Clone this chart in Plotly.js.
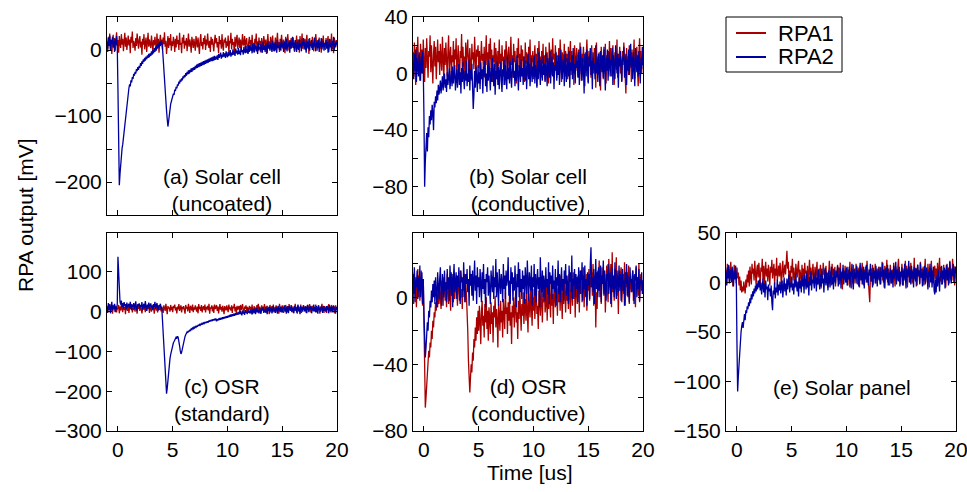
<!DOCTYPE html>
<html>
<head>
<meta charset="utf-8">
<script src="https://cdn.plot.ly/plotly-3.0.1.min.js"></script>
<style>html,body{margin:0;padding:0;background:#fff;}#chart{width:967px;height:492px;}</style>
</head>
<body>
<div id="chart"></div>
<script>
// Each series is stored as rows of samples; row r starts at t = r - 1 us, samples every 1/16 us.
const rowStartUs = -1, samplesPerUs = 16;

const seriesNames = ["RPA1", "RPA2"];
const panelLabels = ["(a) Solar cell<br>(uncoated)", "(b) Solar cell<br>(conductive)", "(c) OSR<br>(standard)", "(d) OSR<br>(conductive)", "(e) Solar panel"];
const xTicks = [0, 5, 10, 15, 20];

// (a) Solar cell (uncoated)
const a_rpa1 = [
 [14,-3,20,7,25,2,16,-6,11,23,4,18,-1,9,27,6],[15,-4,21,10,3,24,8,17,-2,13,26,5,19,0,12,22],
 [7,16,-5,20,11,28,3,14,9,-1,18,6,25,10,2,15],[21,4,13,-7,17,8,24,1,12,19,-3,10,26,5,16,9],
 [3,22,11,-2,15,7,20,13,0,25,6,17,-4,12,23,8],[16,1,19,9,27,5,14,-6,10,21,3,18,7,24,-1,13],
 [6,20,12,-3,17,4,22,9,15,0,26,8,11,-5,19,10],[23,2,14,7,18,-2,11,25,5,16,9,-4,20,12,3,17],
 [8,-1,21,13,4,19,10,-6,15,24,6,12,1,18,9,22],[0,16,7,25,11,3,14,-3,20,8,17,5,-2,13,23,10],
 [18,4,12,-5,21,9,15,2,24,7,-1,16,11,19,3,13],[6,22,-4,14,10,26,1,17,8,12,-7,20,5,15,23,2],
 [11,19,3,16,-2,13,24,7,9,21,0,14,18,4,-5,12],[20,8,15,1,23,6,11,-3,17,10,25,2,13,-1,19,7],
 [14,-4,18,9,3,21,12,5,16,-6,10,24,7,13,1,20],[4,15,22,-2,11,8,19,0,14,26,6,12,-3,17,9,23],
 [10,2,16,7,-5,20,13,4,24,11,-1,15,8,18,3,12],[19,5,-3,14,9,22,1,16,12,-4,21,6,10,25,2,15],
 [8,17,0,13,23,4,11,-6,18,9,14,3,20,7,-2,16],[12,24,6,-1,15,10,19,2,13,-4,17,8,22,5,11,0],
 [18,3,14,21,-3,9,16,6,25,1,12,-5,19,10,4,15],[9]];
const a_rpa2 = [
 [12,2,18,6,22,0,15,9,20,4,14,-3,17,8,21,5],[-60,-150,-205,-188,-172,-163,-149,-143,-133,-124,-109,-102,-87,-81,-70,-66],
 [-58,-52,-55,-46,-49,-41,-44,-36,-39,-33,-36,-29,-32,-26,-30,-24],[-27,-20,-24,-17,-21,-14,-18,-12,-16,-10,-14,-8,-12,-6,-11,-5],
 [-9,-2,-7,0,-5,3,-3,5,-1,8,2,10,4,12,6,14],[12,4,-15,-35,-50,-68,-82,-92,-105,-116,-108,-96,-88,-82,-78,-73],
 [-70,-66,-68,-60,-62,-56,-58,-52,-54,-48,-51,-45,-48,-43,-46,-40],[-43,-38,-41,-35,-39,-33,-37,-31,-36,-30,-34,-28,-33,-27,-31,-26],
 [-30,-24,-28,-22,-27,-21,-26,-20,-25,-19,-24,-18,-23,-17,-22,-16],[-21,-15,-20,-14,-19,-13,-18,-12,-17,-11,-17,-10,-16,-9,-15,-10],
 [-14,-8,-15,-6,-12,-9,-4,-13,-7,-11,-3,-10,-5,-12,-2,-8],[-11,-3,-9,-6,0,-10,-4,-8,1,-7,-2,-9,2,-5,-1,-7],
 [3,-6,-1,-8,4,-3,0,-7,5,-2,-5,6,-4,1,-6,7],[-3,8,-1,4,-5,9,0,-4,10,2,-2,6,-6,11,1,5],
 [-2,9,3,-4,12,0,7,-3,10,4,-5,13,2,8,-1,11],[5,-3,14,1,9,-2,12,6,-4,15,3,8,0,11,-1,16],
 [4,10,-3,13,7,1,17,-2,9,5,12,-4,14,2,8,20],[3,11,-1,15,6,-3,12,9,0,16,4,10,-2,13,7,18],
 [1,12,5,-4,14,8,2,17,-1,10,6,15,0,11,4,19],[7,-2,13,9,3,16,-3,11,5,18,1,8,14,-1,10,6],
 [15,2,12,-4,9,17,4,11,-2,14,7,20,0,10,5,13],[8]];

// (b) Solar cell (conductive)
const b_rpa1 = [
 [15,-2,22,6,-8,19,10,26,3,13,-5,21,8,17,0,24],[11,-6,18,4,25,9,-3,16,12,27,1,20,7,-7,14,23],
 [5,19,-4,12,24,8,16,-1,21,10,2,26,13,-5,18,6],[22,9,-2,15,27,4,11,19,-6,13,8,23,1,17,10,25],
 [-3,14,20,7,-8,16,11,28,2,19,5,12,-4,22,9,15],[24,0,13,18,6,-5,21,10,15,3,26,8,-2,17,12,20],
 [4,16,-7,11,23,9,14,1,19,-3,12,27,6,15,-1,21],[10,25,3,17,-6,13,8,22,0,18,11,-4,16,5,24,7],
 [14,-2,20,9,12,-8,17,4,23,10,1,15,19,-5,11,26],[6,13,-3,21,8,16,2,-7,18,11,25,4,14,-1,20,9],
 [17,3,12,-6,22,7,15,10,-2,19,5,24,0,13,8,16],[-4,11,20,6,14,-9,18,2,23,9,12,-3,16,7,21,1],
 [13,-5,19,8,15,3,-7,22,11,5,17,-1,25,10,14,2],[20,6,-3,13,9,18,0,24,7,-6,15,12,4,21,-2,16],
 [8,14,-4,19,3,11,23,-1,16,6,13,-8,20,9,2,18],[12,-2,17,5,22,10,-5,14,8,19,1,-9,15,11,24,4],
 [-6,16,9,13,-3,20,6,11,0,18,14,-10,22,3,12,7],[15,1,-12,19,8,10,-4,17,5,21,-7,13,9,16,2,23],
 [4,18,-2,12,20,7,-8,15,11,3,24,-3,14,9,19,0],[10,-5,16,6,22,13,1,-14,18,8,12,-1,20,5,15,-6],
 [17,3,11,24,-4,14,8,19,2,-9,13,25,6,16,0,12],[7]];
const b_rpa2 = [
 [8,-4,14,2,17,-6,11,5,-2,15,7,-5,12,0,16,3],[-30,-80,-62,-50,-42,-55,-38,-45,-30,-36,-26,-33,-22,-28,-40,-20],
 [-24,-16,-21,-12,-19,-8,-15,-11,-5,-14,-9,-2,-12,-6,0,-10],[-4,-13,1,-8,-3,4,-11,-5,2,-9,5,-7,-1,6,-12,-3],
 [3,-10,-2,7,-8,1,-14,4,-6,8,-3,-11,2,-5,9,-9],[0,-6,10,-12,3,-4,7,-8,-25,-15,2,-10,5,-3,-13,6],
 [-7,1,-11,8,-4,3,-14,5,-2,9,-9,0,-13,6,-5,10],[-3,-12,4,-6,11,-1,-9,7,-15,2,-4,9,-8,5,-11,1],
 [8,-5,-13,3,-2,10,-8,6,0,-11,12,-4,4,-7,9,-1],[-10,5,11,-3,2,-9,7,-5,13,-1,-12,6,3,-6,10,-2],
 [4,-8,12,0,-5,9,-11,3,14,-4,7,-9,1,11,-6,5],[-2,13,-7,6,2,-10,9,-4,15,1,-8,10,4,-5,12,-1],
 [7,-6,14,0,-9,11,3,-3,16,-7,5,12,-2,8,-11,6],[2,15,-5,9,-1,13,-8,4,17,1,-4,10,6,-9,14,3],
 [-6,11,5,-2,16,-10,8,2,13,-4,18,0,7,-7,12,4],[9,-3,15,-8,6,19,1,-5,11,4,-14,14,8,-2,17,3],
 [-7,12,5,18,-1,9,-11,15,3,7,-4,20,0,10,-6,14],[4,-9,16,8,1,13,-3,19,6,-12,11,2,17,-5,9,15],
 [-2,10,6,18,-8,13,3,-4,20,7,0,14,-10,11,5,16],[1,-6,12,9,19,-3,6,14,-8,10,2,17,-1,8,21,4],
 [12,-4,15,5,-9,18,8,1,13,-2,16,6,-7,11,3,19],[6]];

// (c) OSR (standard)
const c_rpa1 = [
 [12,-3,16,4,19,0,9,14,-5,11,6,18,1,15,-2,10],[7,17,-4,13,3,20,8,-1,15,5,12,-6,18,9,2,14],
 [-3,11,16,6,19,-2,10,4,13,0,17,8,-5,14,7,20],[2,15,9,-4,12,18,5,10,-1,16,3,13,7,21,-3,11],
 [8,0,17,6,14,-5,10,19,3,12,-2,15,9,4,18,1],[13,7,-3,16,10,2,20,5,-6,14,8,11,0,17,4,12],
 [-1,15,9,18,3,11,-4,13,6,19,2,10,16,-2,12,7],[14,4,-5,17,8,12,1,20,6,-3,15,10,3,18,-1,11],
 [5,16,9,0,13,-4,19,7,12,2,17,-2,10,14,4,18],[-2,12,6,15,3,20,-5,11,8,16,1,13,-3,18,7,10],
 [17,2,13,-4,9,19,5,12,0,15,7,-6,14,10,3,16],[8,-1,18,6,11,3,16,-3,13,9,20,1,12,-5,15,5],
 [11,14,-2,17,4,10,19,2,-4,13,7,16,0,12,8,-3],[15,6,12,1,18,-5,9,14,3,11,-1,17,7,20,2,13],
 [-4,10,16,5,13,0,19,8,-3,12,15,4,11,-6,17,9],[3,14,7,18,-2,11,5,16,9,1,13,-5,20,6,12,-1],
 [16,8,-3,12,4,17,10,0,14,-4,19,7,11,2,15,9],[-2,13,6,20,3,10,-5,15,8,12,1,18,-3,11,5,16],
 [9,0,14,7,-4,17,11,3,19,6,-2,13,10,15,1,12],[4,18,-1,11,8,16,2,-5,13,9,20,5,12,-3,14,7],
 [10,-3,15,6,19,1,12,-2,17,8,4,14,-4,11,16,6],[9]];
const c_rpa2 = [
 [14,-2,22,6,18,-4,11,25,3,16,8,20,-1,13,5,19],[138,80,35,25,18,28,12,22,8,24,14,19,6,23,11,17],
 [20,9,25,13,4,18,11,22,7,16,26,10,3,19,14,21],[8,17,12,24,5,15,20,9,27,13,2,18,11,23,6,16],
 [21,10,14,4,19,12,25,7,16,22,11,3,17,13,20,9],[10,-20,-55,-95,-135,-170,-195,-206,-192,-170,-150,-132,-118,-108,-98,-90],
 [-84,-78,-75,-70,-68,-64,-66,-62,-65,-72,-85,-98,-106,-102,-92,-82],[-74,-68,-62,-58,-55,-51,-53,-48,-50,-45,-47,-43,-45,-41,-43,-39],
 [-41,-37,-39,-35,-38,-33,-36,-32,-34,-30,-33,-29,-31,-28,-30,-26],[-29,-25,-28,-24,-27,-22,-25,-21,-24,-20,-23,-19,-22,-18,-21,-17],
 [-24,-19,-22,-17,-21,-16,-20,-15,-19,-14,-18,-13,-17,-12,-16,-11],[-15,-10,-14,-8,-13,-7,-12,-6,-11,-5,-10,-4,-9,-3,-8,-2],
 [-7,0,-6,2,-5,-9,3,-4,-1,-8,4,-3,1,-6,5,-2],[2,-5,6,-1,-7,7,0,-3,8,-6,3,9,-2,5,-4,10],
 [1,-5,8,3,11,-3,6,-1,12,4,-6,9,2,13,-2,7],[10,-4,5,14,1,8,-3,12,6,-5,15,3,9,-1,13,4],
 [-2,11,7,16,0,9,-5,13,5,-3,14,8,2,17,-1,10],[6,-4,15,3,12,-2,9,18,1,7,-6,14,4,11,0,16],
 [8,2,13,-3,10,17,5,-1,12,6,15,-4,9,3,18,1],[11,-2,14,7,-5,16,4,10,0,13,8,-3,15,2,12,6],
 [-1,14,5,11,-4,17,9,2,13,-2,10,16,3,8,-5,12],[4]];

// (d) OSR (conductive)
const d_rpa1 = [
 [10,-4,15,2,12,-6,8,17,0,13,-2,9,16,3,-5,11],[-20,-45,-66,-60,-52,-45,-40,-32,-36,-27,-30,-20,-25,-14,-18,-9],
 [-12,-3,-8,2,-6,5,-4,8,-1,-7,10,0,-5,12,3,-2],[9,-6,14,1,-4,11,4,-8,15,2,7,-3,13,-1,6,10],
 [3,-5,12,8,-2,16,0,5,-7,11,4,14,-3,9,2,-6],[-20,-38,-50,-57,-48,-40,-45,-33,-38,-25,-30,-18,-26,-12,-22,-8],
 [-20,-5,-14,-28,-9,-2,-17,-11,-24,-4,-15,0,-19,-8,-26,-6],[-13,-22,-3,-16,-9,-27,-5,-12,1,-18,-7,-14,-30,-4,-11,-20],
 [-2,-15,-8,-24,-1,-12,-19,3,-10,-6,-22,-3,-14,2,-17,-9],[-28,-5,-12,0,-18,-7,4,-15,-9,-25,-2,-13,5,-8,-20,-4],
 [-11,3,-16,-6,-1,-14,6,-9,-21,2,-7,-12,7,-4,-17,0],[-8,5,-13,-2,8,-10,-5,-19,4,-1,-11,9,-6,-15,3,-3],
 [6,-9,-4,10,-14,1,-7,7,-2,-12,11,-5,2,-16,8,-1],[-6,9,3,-11,12,-3,5,-8,13,0,-13,7,-4,10,2,-9],
 [11,-2,6,-7,14,1,-10,8,4,-5,15,-1,9,-12,12,3],[-4,13,7,-9,16,2,10,-3,5,18,-6,11,0,14,-8,8],
 [4,17,-2,12,6,15,1,20,-5,9,13,-18,3,-7,16,7],[22,0,11,-4,18,8,11,2,14,-9,12,19,5,-3,23,10],
 [6,20,-6,27,3,12,-2,17,9,24,1,11,-10,16,4,13],[18,-3,9,14,2,21,-5,10,6,15,0,19,-4,12,8,3],
 [11,16,-2,13,5,-6,18,7,12,1,20,-3,9,14,4,10],[8]];
const d_rpa2 = [
 [14,2,18,-3,10,6,16,-1,12,4,19,0,9,15,-4,11],[-10,-28,-36,-30,-22,-15,-20,-8,-12,-2,-6,4,-3,8,0,10],
 [-4,12,3,-6,15,6,-1,11,18,2,-5,14,7,0,16,4],[9,-3,17,5,12,-2,19,8,1,14,-6,11,20,3,7,15],
 [-1,13,6,18,2,-4,16,9,12,0,21,5,-3,14,8,17],[3,11,-5,19,7,14,1,16,-2,10,22,4,13,-4,18,6],
 [12,0,17,8,-3,15,5,20,2,11,-6,14,9,18,1,13],[7,-4,16,10,3,19,-1,12,6,23,0,15,8,-5,17,11],
 [2,14,9,-3,20,5,13,-1,16,7,11,24,1,10,-4,18],[8,15,-2,12,4,19,10,-6,14,6,21,0,17,3,11,-1],
 [16,5,13,-4,18,9,2,22,7,-2,15,11,4,19,-5,12],[6,20,1,14,-3,10,17,5,12,-6,24,8,3,16,0,13],
 [9,-2,18,6,11,1,21,-4,15,8,13,-1,19,5,10,3],[17,-5,12,7,22,2,14,-3,10,18,4,11,-2,16,8,20],
 [1,13,6,-4,19,9,15,3,25,-1,11,7,17,0,14,5],[12,-3,18,8,2,16,10,21,-2,13,5,19,1,11,-5,15],
 [7,14,-1,20,30,6,12,3,17,-4,10,23,5,15,0,18],[4,11,19,-3,13,8,22,1,16,6,-2,14,10,20,2,12],
 [15,-4,9,18,5,13,0,21,7,-1,16,11,3,19,6,14],[-2,12,17,4,10,-5,15,8,20,1,13,6,-3,18,9,11],
 [3,16,7,-4,14,10,19,0,12,5,17,-2,11,8,15,2],[10]];

// (e) Solar panel
const e_rpa1 = [
 [13,-2,19,6,16,0,10,21,3,14,-4,11,18,5,9,-1],[15,4,10,-3,6,-8,2,-10,-4,-9,1,-6,-11,3,-5,8],
 [0,12,-4,16,6,-2,19,9,14,2,22,7,-3,13,18,5],[20,8,-1,15,11,24,3,17,-5,12,21,6,14,1,18,9],
 [-3,16,10,23,4,12,19,-2,14,7,25,2,11,17,6,20],[9,-4,15,22,5,13,18,8,27,32,14,21,3,12,-1,17],
 [10,24,2,15,7,-3,19,11,5,16,22,0,13,8,-6,18],[4,14,-2,20,9,12,1,17,-5,10,23,6,15,-1,11,19],
 [7,-4,16,3,12,21,-2,9,14,5,18,-6,11,2,20,8],[13,-1,17,6,10,-5,15,22,4,11,-3,19,7,14,1,16],
 [-4,12,8,18,2,15,-2,20,6,11,-7,14,9,3,17,0],[10,16,-3,13,5,21,1,-6,12,8,18,-1,14,4,19,7],
 [-2,15,9,-5,17,3,11,20,6,-3,13,8,16,0,22,10],[4,-6,-20,8,14,1,18,-3,11,6,19,-1,13,9,3,16],
 [10,-2,15,7,21,2,12,-5,17,5,9,23,0,14,6,-3],[18,8,-1,13,4,20,11,-4,16,7,2,15,24,3,10,-2],
 [12,19,5,-3,14,9,22,1,17,-5,11,6,16,0,20,8],[-1,13,7,25,3,15,-4,10,18,6,12,-2,21,9,14,4],
 [16,-3,11,24,5,13,0,19,8,-5,15,10,22,2,12,-1],[9,17,3,14,-4,20,7,12,25,1,16,-2,11,6,18,0],
 [13,-5,10,19,4,15,-1,22,8,12,2,24,6,17,-3,11],[14]];
const e_rpa2 = [
 [10,-3,15,4,18,-1,8,13,0,16,6,-4,12,3,17,7],[-60,-110,-95,-80,-70,-58,-50,-44,-40,-46,-36,-32,-38,-28,-31,-24],
 [-27,-20,-24,-16,-21,-12,-17,-9,-14,-6,-11,-3,-9,-1,-7,2],[-5,3,-8,0,-12,-3,4,-10,-1,-15,2,-7,-4,-18,-2,-9],
 [-6,-14,-3,-20,-28,-8,-12,0,-16,-5,-10,3,-13,-2,-8,1],[-11,-4,2,-15,-6,5,-9,-1,-13,4,-7,-2,8,-10,0,-5],
 [6,-8,-1,-12,3,-5,9,-3,-9,1,-14,5,-6,2,-10,7],[-4,4,-11,8,-2,-7,10,-5,1,-13,6,-3,11,-8,3,-1],
 [9,-6,2,12,-9,5,-2,13,0,-7,8,-4,14,-1,4,-10],[7,15,-3,10,1,-8,12,4,-5,9,16,-2,6,-7,13,3],
 [-1,11,5,17,-4,8,2,14,-6,10,4,18,-2,7,12,0],[15,-3,9,3,16,-5,11,6,19,1,-7,13,4,10,-1,17],
 [5,12,-4,9,20,2,14,-2,8,16,-6,11,3,18,0,10],[-3,13,7,19,1,10,-5,15,4,12,-1,17,6,-4,14,9],
 [2,16,-2,11,6,20,0,13,-6,9,15,3,18,-3,10,5],[14,-1,12,7,-5,17,4,10,21,-2,13,8,1,16,-4,11],
 [6,15,-3,12,2,19,8,-6,14,5,10,22,0,13,-2,17],[4,11,-5,16,9,1,14,-3,18,7,12,-1,20,5,10,-4],
 [13,2,17,-2,9,15,4,-7,11,6,19,0,14,-5,8,16],[-8,-12,3,-10,7,-4,13,1,-9,10,5,17,-2,12,3,15],
 [-6,9,18,2,13,-3,10,21,5,-1,14,7,19,0,11,16],[9]];

function unroll(rows) {
  const x = [], y = [];
  rows.forEach((row, r) => row.forEach((v, j) => { x.push(rowStartUs + r + j / samplesPerUs); y.push(v); }));
  return {x, y};
}

const panels = [
  {x: "x",  y: "y",  r1: a_rpa1, r2: a_rpa2},
  {x: "x2", y: "y2", r1: b_rpa1, r2: b_rpa2},
  {x: "x3", y: "y3", r1: c_rpa1, r2: c_rpa2},
  {x: "x4", y: "y4", r1: d_rpa1, r2: d_rpa2},
  {x: "x5", y: "y5", r1: e_rpa1, r2: e_rpa2}
];

const RED = "#a80000", BLUE = "#0000a0";
const traces = [];
panels.forEach((p, k) => {
  const s = unroll(p.r1);
  traces.push({type: "scatter", mode: "lines", x: s.x, y: s.y, xaxis: p.x, yaxis: p.y,
    name: seriesNames[0], showlegend: false, line: {color: RED, width: 1.3}});
});
panels.forEach((p, k) => {
  const s = unroll(p.r2);
  traces.push({type: "scatter", mode: "lines", x: s.x, y: s.y, xaxis: p.x, yaxis: p.y,
    name: seriesNames[1], showlegend: false, line: {color: BLUE, width: 1.3}});
});

const W = 967, H = 492;
const px = v => v / W, py = v => 1 - v / H;
const FONT = "Liberation Sans, Arial, Helvetica, sans-serif";
const tickFont = {family: FONT, size: 21, color: "#000"};

function xAxis(l, r, labels, anchor) {
  return {domain: [px(l), px(r)], range: [-1, 20], anchor: anchor, tickvals: xTicks,
    showticklabels: labels, ticks: "inside", ticklen: 5, tickcolor: "#000", mirror: "ticks",
    showline: true, linecolor: "#000", linewidth: 1, showgrid: false, zeroline: false,
    tickfont: tickFont, ticklabeloverflow: "allow", fixedrange: true};
}
function yAxis(t, b, range, vals, text, anchor) {
  return {domain: [py(b), py(t)], range: range, anchor: anchor, tickvals: vals, ticktext: text,
    ticks: "inside", ticklen: 5, tickcolor: "#000", mirror: "ticks",
    showline: true, linecolor: "#000", linewidth: 1, showgrid: false, zeroline: false,
    tickfont: tickFont, ticklabeloverflow: "allow", fixedrange: true};
}
const M = "\u2212";
function note(text, x, y, extra) {
  return Object.assign({text: text, x: px(x), y: py(y), xref: "paper", yref: "paper", showarrow: false,
    xanchor: "center", yanchor: "middle", font: {family: FONT, size: 21, color: "#000"}}, extra || {});
}
const layout = {
  width: W, height: H, margin: {l: 0, r: 0, t: 0, b: 0},
  paper_bgcolor: "#fff", plot_bgcolor: "#fff",
  font: {family: FONT, size: 21, color: "#000"},
  showlegend: false,
  xaxis:  xAxis(107, 337, false, "y"),
  xaxis2: xAxis(413, 643, false, "y2"),
  xaxis3: xAxis(107, 337, true, "y3"),
  xaxis4: xAxis(413, 643, true, "y4"),
  xaxis5: xAxis(726, 956, true, "y5"),
  yaxis:  yAxis(17, 215, [-250, 50], [-250,-200,-150,-100,-50,0], ["", M+"200", "", M+"100", "", "0"], "x"),
  yaxis2: yAxis(17, 215, [-100, 40], [-100,-80,-60,-40,-20,0,20,40], ["", M+"80", "", M+"40", "", "0", "", "40"], "x2"),
  yaxis3: yAxis(233, 431, [-300, 198], [-300,-200,-100,0,100], [M+"300", M+"200", M+"100", "0", "100"], "x3"),
  yaxis4: yAxis(233, 431, [-80, 38.5], [-80,-60,-40,-20,0,20], [M+"80", "", M+"40", "", "0", ""], "x4"),
  yaxis5: yAxis(233, 431, [-150, 50], [-150,-100,-50,0,50], [M+"150", M+"100", M+"50", "0", "50"], "x5"),
  shapes: [
    {type: "rect", xref: "paper", yref: "paper", x0: px(726), x1: px(842), y0: py(72), y1: py(17),
      line: {color: "#000", width: 1}, fillcolor: "#fff"},
    {type: "line", xref: "paper", yref: "paper", x0: px(736), x1: px(766), y0: py(33), y1: py(33), line: {color: RED, width: 2}},
    {type: "line", xref: "paper", yref: "paper", x0: px(736), x1: px(766), y0: py(57), y1: py(57), line: {color: BLUE, width: 2}}
  ],
  annotations: [
    note(panelLabels[0], 222, 190),
    note(panelLabels[1], 528, 190),
    note(panelLabels[2], 222, 400),
    note(panelLabels[3], 528, 400),
    note(panelLabels[4], 842, 387),
    note("RPA output [mV]", 25, 215, {textangle: -90}),
    note("Time [us]", 530, 472),
    note(seriesNames[0], 776, 33, {xanchor: "left", font: {family: FONT, size: 22, color: "#000"}}),
    note(seriesNames[1], 776, 57, {xanchor: "left", font: {family: FONT, size: 22, color: "#000"}})
  ]
};
Plotly.newPlot("chart", traces, layout, {staticPlot: true, displayModeBar: false});
</script>
</body>
</html>
